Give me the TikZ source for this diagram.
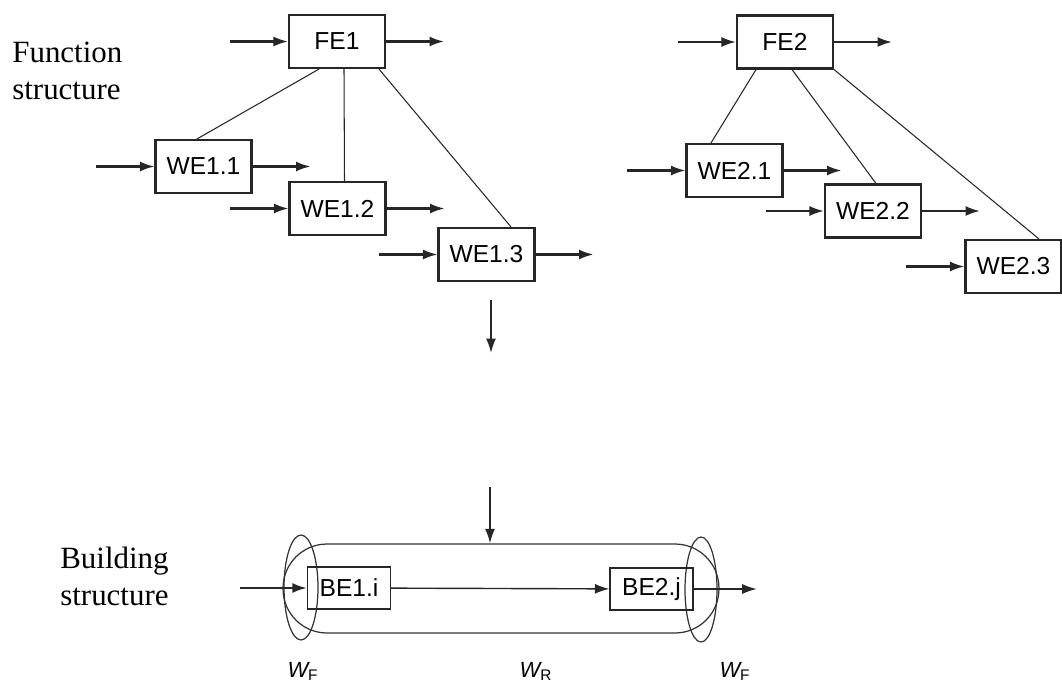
\documentclass[tikz,border=0pt]{standalone}
\usepackage{fontspec}
\setmainfont{Liberation Serif}
\setsansfont{Liberation Sans}
\usetikzlibrary{arrows.meta,positioning,shapes.geometric}

\begin{document}
\begin{tikzpicture}[
    x=0.02cm, y=-0.02cm,
    box/.style={rectangle, draw=black!85, line width=1.2pt, minimum width=1.92cm, minimum height=1.06cm, inner sep=0pt, font=\sffamily\fontsize{14}{16}\selectfont},
    bebox/.style={box, minimum width=1.66cm, minimum height=0.84cm, line width=0.8pt},
    arrow/.style={-{Latex[length=2.9mm,width=2mm]}, line width=1.2pt, draw=black!85},
    link/.style={line width=0.6pt, draw=black!85},
    zone/.style={draw=black!80, line width=0.7pt, inner sep=0pt},
    title/.style={align=left, inner sep=0pt, anchor=north west, font=\fontsize{17.6}{21}\selectfont},
    wlabel/.style={anchor=base, inner sep=0pt, font=\sffamily\fontsize{12.5}{14}\selectfont}
]
\useasboundingbox (0,0) rectangle (1062,684);

% function structure
\node[title] (fstruct) at (12,42) {Function\\structure};
\node[box] (fe1) at (337,41.5) {FE1};
\node[box] (we11) at (203.5,166.5) {WE1.1};
\node[box] (we12) at (337.5,208.5) {WE1.2};
\node[box] (we13) at (486.5,254.5) {WE1.3};
\node[box] (fe2) at (785,42) {FE2};
\node[box] (we21) at (734.5,170.5) {WE2.1};
\node[box] (we22) at (873,211) {WE2.2};
\node[box] (we23) at (1013.5,266.5) {WE2.3};

\draw[link] ([xshift=-0.36cm]fe1.south) -- ([xshift=-0.13cm]we11.north);
\draw[link] ([xshift=0.14cm]fe1.south) -- ([xshift=0.14cm]we12.north);
\draw[link] ([xshift=0.84cm]fe1.south) -- ([xshift=0.49cm]we13.north);
\draw[link] ([xshift=-0.58cm]fe2.south) -- ([xshift=-0.47cm]we21.north);
\draw[link] ([xshift=0.14cm]fe2.south) -- ([xshift=0.06cm]we22.north);
\draw[link] (fe2.south east) -- ([xshift=0.51cm]we23.north);

% inputs and outputs
\foreach \n in {fe1,we11,we12,we13,fe2,we21,we22,we23}{
    \coordinate[left=1.16cm of \n.west] (\n-in);
    \draw[arrow] (\n-in) -- (\n);
}
\foreach \n in {fe1,we11,we12,we13,fe2,we21,we22}{
    \coordinate[right=1.16cm of \n.east] (\n-out);
    \draw[arrow] (\n) -- (\n-out);
}

% transition
\coordinate (m1) at (491,300);
\coordinate (m1e) at (491,353);
\coordinate (m2) at (490,487);
\draw[arrow, line width=1pt] (m1) -- (m1e);

% building structure
\node[title] (bstruct) at (60,547) {Building\\structure};
\node[zone, rectangle, rounded corners=0.88cm, minimum width=8.72cm, minimum height=1.78cm] (wr) at (501,588.5) {};
\node[zone, ellipse, minimum width=0.68cm, minimum height=2.1cm] (wfl) at (301,587.5) {};
\node[zone, ellipse, minimum width=0.64cm, minimum height=2.1cm] (wfr) at (701,589.5) {};
\node[bebox] (be1) at (349,588) {BE1.i};
\node[bebox] (be2) at (651.5,589) {BE2.j};

\draw[arrow, line width=1pt] (m2) -- (m2 |- wr.north);
\coordinate[left=1.34cm of be1.west] (bein);
\coordinate[right=1.26cm of be2.east] (beout);
\draw[arrow] (bein) -- (be1);
\draw[arrow, line width=0.8pt] (be1) -- (be2);
\draw[arrow, line width=0.8pt] (be2) -- (beout);

\node[wlabel] (lwf1) at (303,677) {\itshape W\textsubscript{\upshape F}};
\node[wlabel] (lwr) at (536,677) {\itshape W\textsubscript{\upshape R}};
\node[wlabel] (lwf2) at (735,677) {\itshape W\textsubscript{\upshape F}};
\end{tikzpicture}
\end{document}
